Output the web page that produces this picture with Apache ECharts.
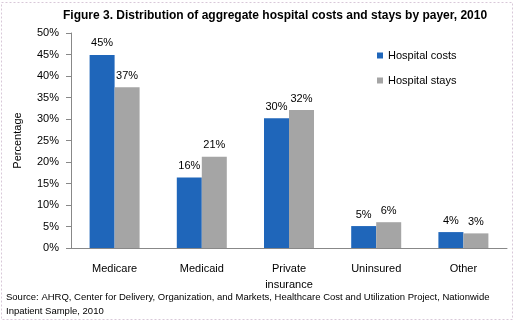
<!DOCTYPE html>
<html><head><meta charset="utf-8">
<script src="https://cdn.jsdelivr.net/npm/echarts@6/dist/echarts.min.js"></script>
<style>html,body{margin:0;padding:0;background:#fff}#c{width:516px;height:322px}</style>
</head><body><div id="c"></div>
<script>
var categories = ['Medicare', 'Medicaid', 'Private\ninsurance', 'Uninsured', 'Other'];
var costs = [44.9, 16.4, 30.2, 5.1, 3.7];
var stays = [37.4, 21.2, 32.1, 6.0, 3.4];
var seriesNames = ['Hospital costs', 'Hospital stays'];
var titleText = 'Figure 3. Distribution of aggregate hospital costs and stays by payer, 2010';
var sourceText = 'Source: AHRQ, Center for Delivery, Organization, and Markets, Healthcare Cost and Utilization Project, Nationwide\nInpatient Sample, 2010';

var FONT = 'Liberation Sans';
var chart = echarts.init(document.getElementById('c'), null, {renderer: 'canvas'});
var labelOpt = {show: true, position: 'top', distance: 6, color: '#000', fontFamily: FONT, fontSize: 11,
  formatter: function (p) { return Math.round(p.value) + '%'; }};
chart.setOption({
  animation: false,
  backgroundColor: '#fff',
  title: {text: titleText, left: 58, top: 5,
    textStyle: {fontFamily: FONT, fontSize: 12, fontWeight: 'bold', color: '#000'}},
  legend: {orient: 'vertical', left: 372, top: 45, itemWidth: 6, itemHeight: 6, itemGap: 14,
    icon: 'rect', textStyle: {fontFamily: FONT, fontSize: 11, color: '#000'}, data: seriesNames},
  grid: {left: 71, right: 9, top: 33, bottom: 74, containLabel: false},
  xAxis: {type: 'category', data: categories,
    axisLine: {lineStyle: {color: '#888'}}, axisTick: {show: false},
    axisLabel: {fontFamily: FONT, fontSize: 11, color: '#000', margin: 13, lineHeight: 16}},
  yAxis: {type: 'value', min: 0, max: 50, interval: 5, name: 'Percentage', nameLocation: 'middle', nameGap: 48,
    nameTextStyle: {fontFamily: FONT, fontSize: 11, color: '#000'},
    axisLine: {show: true, lineStyle: {color: '#888'}},
    axisTick: {show: true, length: 5, lineStyle: {color: '#888'}},
    splitLine: {show: false},
    axisLabel: {fontFamily: FONT, fontSize: 11, color: '#000', margin: 12, formatter: '{value}%'}},
  series: [
    {name: seriesNames[0], type: 'bar', data: costs, barWidth: 25, barGap: '0%',
      itemStyle: {color: '#1F66BA'}, label: labelOpt},
    {name: seriesNames[1], type: 'bar', data: stays, barWidth: 25,
      itemStyle: {color: '#A5A5A5'}, label: labelOpt}
  ],
  graphic: [
    {type: 'rect', shape: {x: 1.5, y: 2.5, width: 511, height: 317}, silent: true,
      style: {fill: 'none', stroke: '#d8c8d8', lineWidth: 1, lineDash: [2, 2]}},
    {type: 'text', left: 6, top: 290, silent: true,
      style: {text: sourceText, fontFamily: FONT, fontSize: 9.5, lineHeight: 14, fill: '#000'}}
  ]
});
</script></body></html>
